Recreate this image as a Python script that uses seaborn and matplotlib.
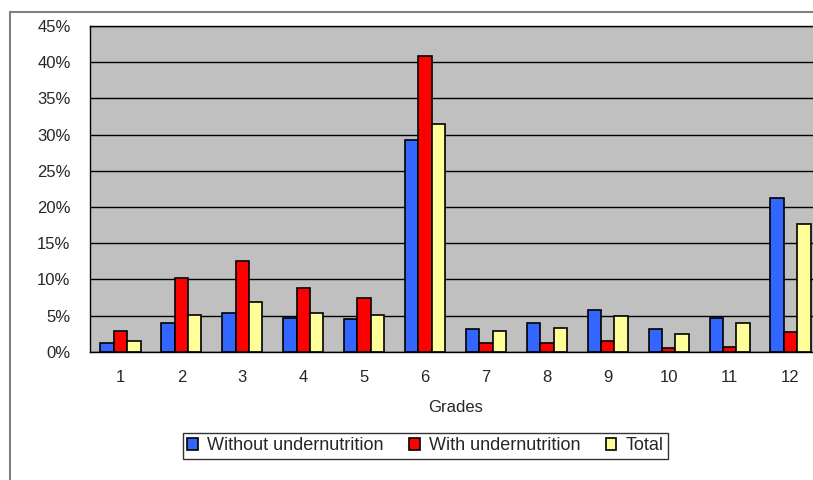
import matplotlib
matplotlib.use("Agg")
import matplotlib.pyplot as plt
from matplotlib.patches import Rectangle
import numpy as np
import pandas as pd
import seaborn as sns

grades = ["1", "2", "3", "4", "5", "6", "7", "8", "9", "10", "11", "12"]
series = ["Without undernutrition", "With undernutrition", "Total"]
without_under = [1.2, 3.9, 5.4, 4.7, 4.5, 29.2, 3.2, 3.9, 5.7, 3.1, 4.7, 21.3]
with_under = [2.9, 10.2, 12.5, 8.8, 7.4, 40.9, 1.2, 1.2, 1.5, 0.5, 0.7, 2.7]
total = [1.5, 5.1, 6.8, 5.4, 5.1, 31.5, 2.9, 3.3, 4.9, 2.5, 3.9, 17.6]
colors = ["#3366FF", "#FF0000", "#FFFF99"]

df = pd.DataFrame({
    "Grade": grades * 3,
    "Series": np.repeat(series, len(grades)),
    "Value": without_under + with_under + total,
})

sns.set_style("white")
plt.rcParams["font.family"] = ["Liberation Sans", "DejaVu Sans"]

fig = plt.figure(figsize=(8.13, 4.8), dpi=100)
ax = fig.add_axes([90 / 813, 128.3 / 480, 731 / 813, 325.7 / 480])
ax.set_facecolor("#C0C0C0")

sns.barplot(data=df, x="Grade", y="Value", hue="Series", order=grades,
            hue_order=series, palette=colors, width=0.66, edgecolor="black",
            linewidth=1.2, saturation=1, ax=ax)

ax.set_xlim(-0.5, 11.5)
ax.set_ylim(0, 45)
ax.set_yticks(range(0, 46, 5))
ax.set_yticklabels([f"{v}%" for v in range(0, 46, 5)])
ax.yaxis.grid(True, color="black", linewidth=1)
ax.set_axisbelow(True)
ax.set_xticks(range(12))
ax.set_xticklabels(grades)
ax.set_xticks(np.arange(-0.5, 12, 1), minor=True)
ax.tick_params(axis="x", which="major", length=0, pad=13, labelsize=12)
ax.tick_params(axis="x", which="minor", length=4, width=1, color="black", direction="out")
ax.tick_params(axis="y", length=4, width=1, color="black", direction="out", pad=10, labelsize=12)
for s in ["left", "bottom", "top"]:
    ax.spines[s].set_color("black")
    ax.spines[s].set_linewidth(1)
ax.spines["right"].set_visible(False)
ax.set_xlabel("Grades", fontsize=12, labelpad=11)
ax.set_ylabel("")

handles, labels = ax.get_legend_handles_labels()
ax.get_legend().remove()
leg = fig.legend(handles, labels, loc="center", bbox_to_anchor=(425.3 / 813, 1 - 446 / 480),
                 ncol=3, fontsize=13, frameon=True, fancybox=False, edgecolor="black",
                 handlelength=0.6, handleheight=0.6, handletextpad=0.5, columnspacing=1.4,
                 borderpad=0.25)
leg.get_frame().set_linewidth(1)

fig.patches.append(Rectangle((10 / 813, -0.1), 1.2, 0.1 + (480 - 11.5) / 480,
                             transform=fig.transFigure, fill=False,
                             edgecolor="#808080", linewidth=1.5))

fig.savefig("out.png", dpi=100)
